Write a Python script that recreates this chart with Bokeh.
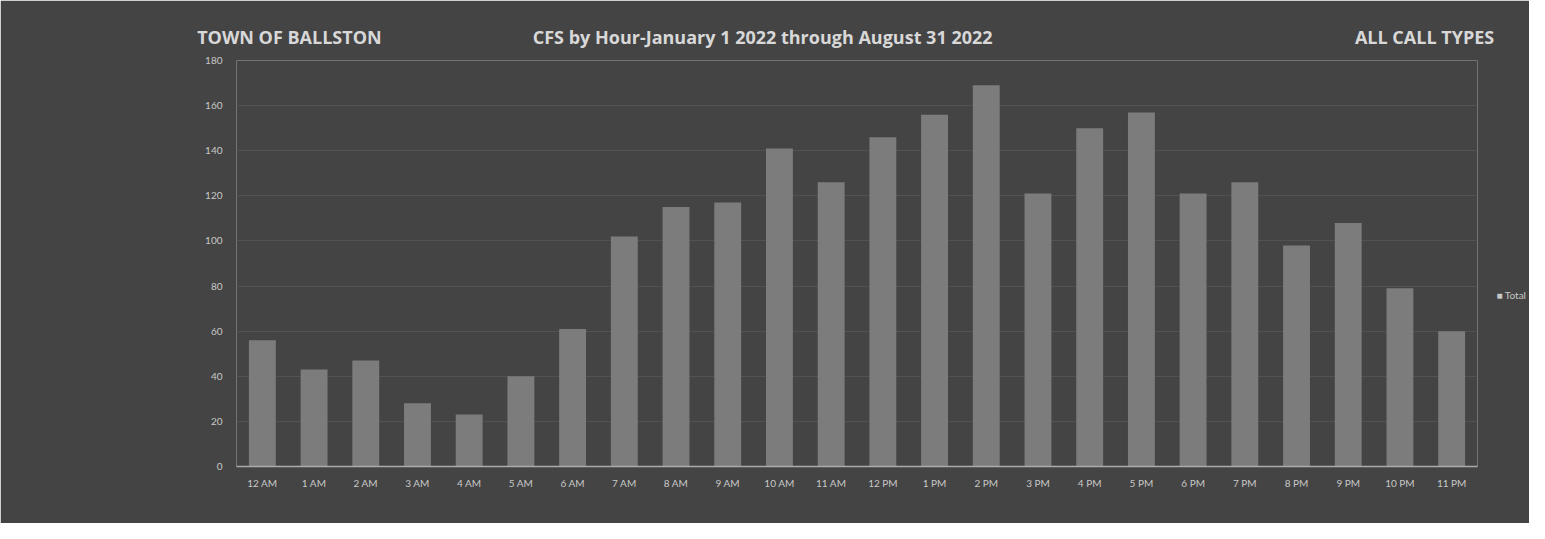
from bokeh.plotting import figure
from bokeh.models import (ColumnDataSource, FactorRange, CategoricalAxis, LinearAxis, FixedTicker)
from bokeh.embed import file_html
from bokeh.resources import INLINE

hours = ["12 AM", "1 AM", "2 AM", "3 AM", "4 AM", "5 AM", "6 AM", "7 AM", "8 AM", "9 AM",
         "10 AM", "11 AM", "12 PM", "1 PM", "2 PM", "3 PM", "4 PM", "5 PM", "6 PM", "7 PM",
         "8 PM", "9 PM", "10 PM", "11 PM"]
totals = [56, 43, 47, 28, 23, 40, 61, 102, 115, 117, 141, 126, 146, 156, 169, 121, 150, 157,
          121, 126, 98, 108, 79, 60]
y_ticks = [0, 20, 40, 60, 80, 100, 120, 140, 160, 180]
header_texts = ["TOWN OF BALLSTON", "CFS by Hour-January 1 2022 through August 31 2022",
                "ALL CALL TYPES"]
series_name = "Total"

BG = "#444444"
FONT = "Lato"
TXT = "#c8c8c8"

src = ColumnDataSource(dict(hour=hours, total=totals))

p = figure(x_range=FactorRange(*hours, range_padding=0), y_range=(0, 180),
           width=1529, height=523, output_backend="svg", toolbar_location=None,
           min_border_left=236, min_border_right=50, min_border_top=60, min_border_bottom=57)
p.background_fill_color = BG
p.border_fill_color = BG
p.outline_line_color = None
p.outline_line_alpha = 0
p.outline_line_width = 0

p.vbar(x="hour", top="total", width=0.52, source=src, fill_color="#7c7c7c", line_color=None)

p.ygrid.grid_line_color = "#525252"
p.xgrid.grid_line_color = None
p.yaxis.ticker = y_ticks
p.yaxis.axis_line_color = None
p.yaxis.major_tick_line_color = None
p.yaxis.minor_tick_line_color = None
p.yaxis.major_tick_out = 0
p.yaxis.major_label_text_color = TXT
p.yaxis.major_label_text_font = FONT
p.yaxis.major_label_text_font_size = "10px"
p.yaxis.major_label_standoff = 14

p.xaxis.axis_line_color = "#ababab"
p.xaxis.axis_line_width = 1.5
p.xaxis.major_tick_line_color = None
p.xaxis.minor_tick_line_color = None
p.xaxis.major_tick_out = 0
p.xaxis.major_label_text_color = TXT
p.xaxis.major_label_text_font = FONT
p.xaxis.major_label_text_font_size = "10px"
p.xaxis.major_label_standoff = 10

# header texts: labels of a hidden categorical axis above the frame
hdr_factors = [(" ", header_texts[0]), ("  ", header_texts[1]), ("  ", header_texts[2])]
p.extra_x_ranges = {"hdr": FactorRange(*hdr_factors, range_padding=0,
                                       group_padding=3.4717, factor_padding=5.2547)}
hdr = CategoricalAxis(x_range_name="hdr")
hdr.axis_line_color = None
hdr.major_tick_line_color = None
hdr.minor_tick_line_color = None
hdr.major_tick_out = 0
hdr.separator_line_color = None
hdr.group_text_alpha = 0
hdr.group_text_font_size = "1px"
hdr.major_label_text_color = "#d8d8d8"
hdr.major_label_text_font = "Open Sans"
hdr.major_label_text_font_style = "bold"
hdr.major_label_text_font_size = "18px"
hdr.major_label_standoff = 12
p.add_layout(hdr, "above")

# series key at the right side, level with 76 on the value scale
key = LinearAxis(ticker=FixedTicker(ticks=[76]),
                 major_label_overrides={76: "\u25a0 " + series_name})
key.axis_line_color = None
key.major_tick_line_color = None
key.minor_tick_line_color = None
key.major_tick_out = 0
key.major_label_text_color = TXT
key.major_label_text_font = FONT
key.major_label_text_font_size = "10px"
key.major_label_standoff = 19
p.add_layout(key, "right")

open("out.html", "w").write(file_html(p, INLINE))
